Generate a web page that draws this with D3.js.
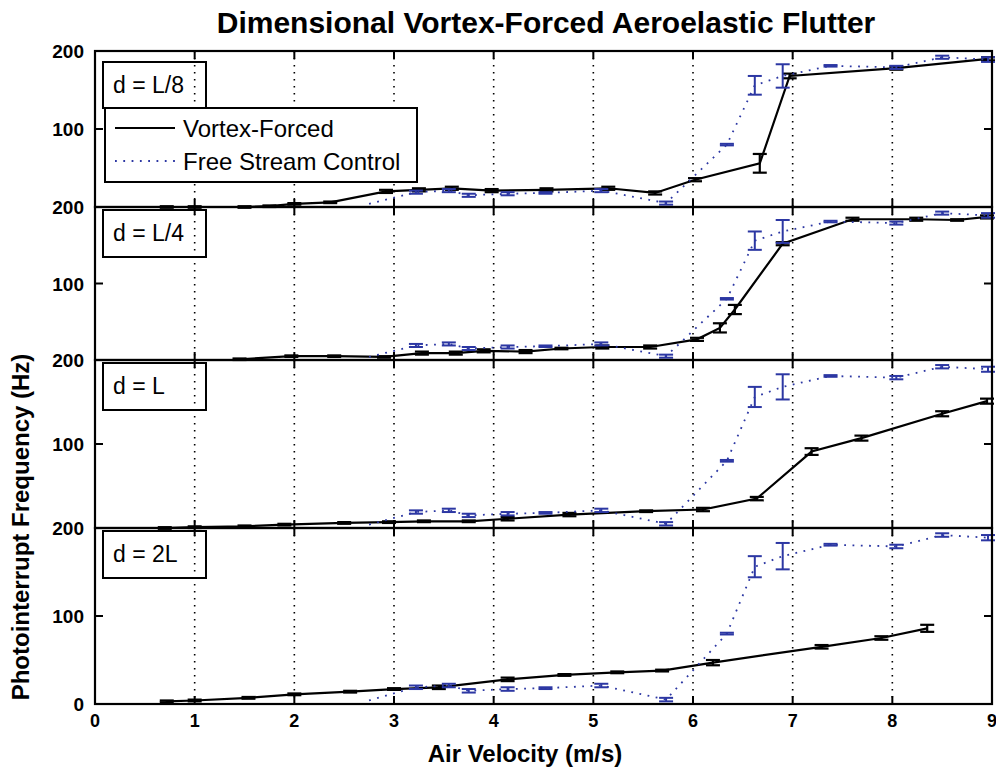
<!DOCTYPE html>
<html>
<head>
<meta charset="utf-8">
<script src="https://cdn.jsdelivr.net/npm/d3@7"></script>
<style>
  body { margin: 0; background: #fff; }
  svg { display: block; font-family: "Liberation Sans", Arial, sans-serif; }
</style>
</head>
<body>
<svg id="chart"></svg>
<script>
// ---- data ----
const velocityTicks = [0, 1, 2, 3, 4, 5, 6, 7, 8, 9];
const freqTickLabels = ["200", "100"];
const panelLabels = ["d = L/8", "d = L/4", "d = L", "d = 2L"];
const seriesNames = ["Vortex-Forced", "Free Stream Control"];

// free stream control run, same on every panel
const controlV = [2.75, 3.22, 3.55, 3.75, 4.14, 4.52, 5.08, 5.73, 6.34, 6.62, 6.9, 7.38, 8.04, 8.5, 8.96];
const controlF = [4, 19, 21, 15, 17, 18, 21, 5, 80, 156, 168, 181, 179, 192, 189];
const controlErr = [0, 2, 2, 2, 2, 1, 2, 2, 1, 12, 15, 1, 2, 2, 3];

// vortex-forced, d = L/8
const vortexL8V = [0.72, 1.0, 1.5, 1.75, 2.0, 2.36, 2.92, 3.25, 3.58, 3.98, 4.53, 5.15, 5.62, 6.02, 6.67, 6.97, 8.04, 8.96];
const vortexL8F = [0, 0, 0, 1, 4, 6, 20, 22, 24, 21, 22, 24, 18, 35, 56, 168, 178, 190];
const vortexL8Err = [1, 1, 1, 1, 1, 1, 2, 2, 2, 2, 2, 2, 2, 2, 12, 3, 2, 2];

// vortex-forced, d = L/4
const vortexL4V = [1.45, 1.97, 2.4, 2.9, 3.28, 3.62, 3.9, 4.32, 4.68, 5.09, 5.57, 6.04, 6.27, 6.42, 6.9, 7.6, 8.24, 8.65, 8.95];
const vortexL4F = [1, 5, 5, 4, 9, 9, 12, 11, 15, 17, 17, 27, 42, 66, 152, 184, 184, 183, 187];
const vortexL4Err = [1, 1, 1, 1, 2, 2, 2, 2, 1, 2, 2, 2, 6, 6, 2, 2, 2, 1, 2];

// vortex-forced, d = L
const vortexL1V = [0.7, 1.0, 1.5, 1.9, 2.5, 2.95, 3.3, 3.75, 4.14, 4.76, 5.53, 6.1, 6.64, 7.19, 7.69, 8.5, 8.95];
const vortexL1F = [0, 1, 2, 4, 6, 7, 8, 8, 11, 16, 20, 22, 35, 91, 107, 136, 151];
const vortexL1Err = [1, 1, 1, 1, 1, 1, 1, 1, 2, 2, 1, 2, 2, 4, 3, 3, 3];

// vortex-forced, d = 2L
const vortex2LV = [0.72, 1.0, 1.54, 2.0, 2.56, 3.0, 3.45, 4.14, 4.71, 5.24, 5.69, 6.2, 7.29, 7.89, 8.35];
const vortex2LF = [3, 4, 7, 11, 14, 17, 19, 28, 33, 36, 38, 47, 65, 75, 86];
const vortex2LErr = [1, 1, 1, 1, 1, 1, 2, 2, 1, 1, 1, 3, 2, 2, 4];

const vortexRuns = [
    [vortexL8V, vortexL8F, vortexL8Err],
    [vortexL4V, vortexL4F, vortexL4Err],
    [vortexL1V, vortexL1F, vortexL1Err],
    [vortex2LV, vortex2LF, vortex2LErr]
];

// ---- layout ----
const width = 996, height = 770;
const panelTops = [51, 207, 360, 528];
const panelBottoms = [207, 360, 528, 704];
const blue = "#2c37a3";
const capHalf = 7;
const tickLen = 8;

const svg = d3.select("#chart").attr("width", width).attr("height", height);
svg.append("rect").attr("width", width).attr("height", height).attr("fill", "#fff");

const x = d3.scaleLinear().domain([0, 9]).range([95, 992]);

const toPoints = (v, f, e) => v.map((d, i) => ({ v: d, f: f[i], e: e[i] }));
const controlPts = toPoints(controlV, controlF, controlErr);

function drawErrorBars(g, pts, y, color, width) {
    const eb = g.append("g").attr("stroke", color).attr("stroke-width", width).attr("fill", "none");
    pts.filter(d => d.e > 0).forEach(d => {
        const cx = x(d.v);
        eb.append("line").attr("x1", cx).attr("x2", cx).attr("y1", y(d.f - d.e)).attr("y2", y(d.f + d.e));
        eb.append("line").attr("x1", cx - capHalf).attr("x2", cx + capHalf).attr("y1", y(d.f - d.e)).attr("y2", y(d.f - d.e));
        eb.append("line").attr("x1", cx - capHalf).attr("x2", cx + capHalf).attr("y1", y(d.f + d.e)).attr("y2", y(d.f + d.e));
    });
}

panelLabels.forEach((label, p) => {
    const top = panelTops[p], bottom = panelBottoms[p];
    const y = d3.scaleLinear().domain([0, 200]).range([bottom, top]);
    const g = svg.append("g").attr("class", "panel");

    // dotted vertical grid
    g.append("g").selectAll("line")
        .data(velocityTicks.slice(1, -1))
        .enter().append("line")
        .attr("x1", d => x(d)).attr("x2", d => x(d))
        .attr("y1", top).attr("y2", bottom)
        .attr("stroke", "#000")
        .attr("stroke-width", 1.6)
        .attr("stroke-dasharray", "1.6,5.4");

    const line = d3.line().x(d => x(d.v)).y(d => y(d.f));

    // vortex-forced (solid black)
    const [vv, vf, ve] = vortexRuns[p];
    const vortexPts = toPoints(vv, vf, ve);
    g.append("path").datum(vortexPts)
        .attr("d", line)
        .attr("fill", "none")
        .attr("stroke", "#000")
        .attr("stroke-width", 2.2);
    drawErrorBars(g, vortexPts, y, "#000", 2.2);

    // free stream control (dotted blue)
    g.append("path").datum(controlPts)
        .attr("d", line)
        .attr("fill", "none")
        .attr("stroke", blue)
        .attr("stroke-width", 1.8)
        .attr("stroke-dasharray", "1.8,6.5");
    drawErrorBars(g, controlPts, y, blue, 2);

    // frame
    g.append("rect")
        .attr("x", x(0)).attr("y", top)
        .attr("width", x(9) - x(0)).attr("height", bottom - top)
        .attr("fill", "none").attr("stroke", "#000").attr("stroke-width", 2.2);

    // inward ticks
    const ticks = g.append("g").attr("stroke", "#000").attr("stroke-width", 2);
    velocityTicks.forEach(t => {
        ticks.append("line").attr("x1", x(t)).attr("x2", x(t)).attr("y1", bottom).attr("y2", bottom - tickLen);
        ticks.append("line").attr("x1", x(t)).attr("x2", x(t)).attr("y1", top).attr("y2", top + tickLen);
    });
    ticks.append("line").attr("x1", x(0)).attr("x2", x(0) + tickLen).attr("y1", y(100)).attr("y2", y(100));
    ticks.append("line").attr("x1", x(9)).attr("x2", x(9) - tickLen).attr("y1", y(100)).attr("y2", y(100));

    // y tick labels
    const yLabels = p === panelLabels.length - 1 ? freqTickLabels.concat(["0"]) : freqTickLabels;
    g.append("g").selectAll("text")
        .data(yLabels)
        .enter().append("text")
        .attr("x", 84)
        .attr("y", d => y(+d) + 7)
        .attr("text-anchor", "end")
        .style("font-size", "19px")
        .style("font-weight", "bold")
        .text(d => d);

    // panel label box (no fill, grid shows through)
    const boxTop = p === 0 ? 62 : top + 3;
    g.append("rect")
        .attr("x", 103).attr("y", boxTop)
        .attr("width", 103).attr("height", p === 0 ? 46 : 47)
        .attr("fill", "none").attr("stroke", "#000").attr("stroke-width", 2);
    g.append("text")
        .attr("x", 113).attr("y", boxTop + 31)
        .style("font-size", "23px")
        .text(label);
});

// legend in first panel
const legend = svg.append("g").attr("class", "legend");
legend.append("rect")
    .attr("x", 105).attr("y", 108).attr("width", 312).attr("height", 74)
    .attr("fill", "#fff").attr("stroke", "#000").attr("stroke-width", 2);
seriesNames.forEach((name, i) => {
    const ly = 128 + i * 33;
    legend.append("line")
        .attr("x1", 115).attr("x2", 175).attr("y1", ly).attr("y2", ly)
        .attr("stroke", i === 0 ? "#000" : blue)
        .attr("stroke-width", i === 0 ? 2.2 : 1.8)
        .attr("stroke-dasharray", i === 0 ? null : "1.8,6.5");
    legend.append("text")
        .attr("x", 183).attr("y", ly + 9)
        .style("font-size", "24px")
        .text(name);
});

// x tick labels under the bottom panel
svg.append("g").selectAll("text")
    .data(velocityTicks)
    .enter().append("text")
    .attr("x", d => x(d))
    .attr("y", 727)
    .attr("text-anchor", "middle")
    .style("font-size", "18px")
    .style("font-weight", "bold")
    .text(d => d);

// titles
svg.append("text")
    .attr("x", 546).attr("y", 33)
    .attr("text-anchor", "middle")
    .style("font-size", "30px")
    .style("font-weight", "bold")
    .text("Dimensional Vortex-Forced Aeroelastic Flutter");

svg.append("text")
    .attr("x", 525).attr("y", 762)
    .attr("text-anchor", "middle")
    .style("font-size", "24px")
    .style("font-weight", "bold")
    .text("Air Velocity (m/s)");

svg.append("text")
    .attr("transform", "translate(29,527) rotate(-90)")
    .attr("text-anchor", "middle")
    .style("font-size", "24px")
    .style("font-weight", "bold")
    .text("Photointerrupt Frequency (Hz)");
</script>
</body>
</html>
